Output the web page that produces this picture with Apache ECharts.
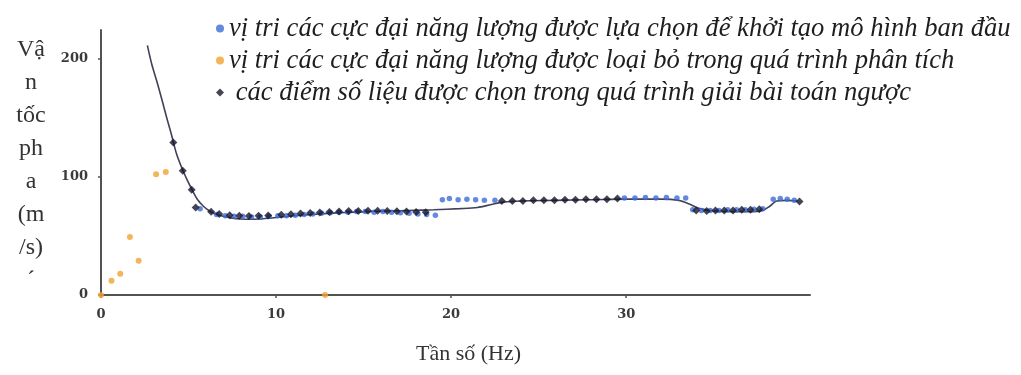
<!DOCTYPE html>
<html>
<head>
<meta charset="utf-8">
<script src="https://cdn.jsdelivr.net/npm/echarts@6/dist/echarts.min.js"></script>
<style>
html,body{margin:0;padding:0;background:#fff;}
#chart{width:1021px;height:375px;}
</style>
</head>
<body>
<div id="chart"></div>
<script>
// ---- Data ----
var legendNames = [
  'vị tri các cực đại năng lượng được lựa chọn để khởi tạo mô hình ban đầu',
  'vị tri các cực đại năng lượng được loại bỏ trong quá trình phân tích',
  'các điểm số liệu được chọn trong quá trình giải bài toán ngược'
];
var xTicks = [0, 10, 20, 30];
var yTicks = [0, 100, 200];
var xTitle = 'Tần số (Hz)';
var yTitleLines = ['Vậ', 'n', 'tốc', 'ph', 'a', '(m', '/s)', '´'];

// blue: selected energy maxima (initial model)
var blueX = [5.66, 6.6, 7.1, 7.6, 8.1, 8.6, 9.1, 9.6, 10.1, 10.6, 11.1, 11.6, 12.1, 12.6, 13.1, 13.6, 14.1, 14.6, 15.1, 15.6, 16.1, 16.6, 17.1, 17.6, 18.1, 18.6, 19.1,
             19.5, 19.9, 20.4, 20.9, 21.4, 21.9, 22.5, 29.9, 30.5, 31.1, 31.7, 32.3, 32.9, 33.4,
             33.8, 34.3, 34.8, 35.3, 35.8, 36.3, 36.8, 37.3, 37.8,
             38.4, 38.8, 39.2, 39.6];
var blueY = [73, 68, 67, 66.5, 66.5, 66, 66, 66.5, 67, 67, 67.5, 68, 68.5, 69, 69.5, 70, 70, 70.5, 70.5, 70, 70.5, 70, 69.5, 69, 68.5, 68, 67.5,
             80.5, 81.5, 80.5, 81, 80.5, 80, 80, 82, 82, 82.5, 82, 82.5, 82, 82,
             72, 71.5, 71.5, 71.5, 72, 72, 72, 72.5, 73,
             81, 81.5, 81, 80];

// orange: removed energy maxima
var orangeX = [0, 0.6, 1.1, 1.65, 2.15, 3.15, 3.7, 12.8];
var orangeY = [0, 12, 18, 49, 29, 102, 104, 0];

// black diamonds: points used in the inversion
var blackX = [4.13, 4.67, 5.18, 5.41, 6.29, 6.75, 7.35, 7.9, 8.45, 9.0, 9.55, 10.3, 10.85, 11.4, 11.95, 12.5, 13.05, 13.6, 14.15, 14.7, 15.25, 15.8, 16.35, 16.9, 17.45, 18.0, 18.55,
              22.9, 23.5, 24.1, 24.7, 25.3, 25.9, 26.5, 27.1, 27.7, 28.3, 28.9, 29.5,
              34.0, 34.6, 35.1, 35.6, 36.1, 36.6, 37.1, 37.6, 39.9];
var blackY = [129, 105, 89, 74, 70.3, 68.5, 67.5, 67, 66.8, 67, 67.2, 67.8, 68.2, 68.8, 69.3, 69.8, 70.2, 70.5, 71, 71, 71.3, 71.2, 71, 70.8, 70.5, 70.2, 70,
              79.5, 79.5, 79.5, 80, 80, 80, 80.5, 80.5, 81, 81, 81, 81.5,
              71.5, 71, 71.5, 71.5, 71.5, 72, 72, 72.5, 79];

// fitted dispersion curve
var curveX = [2.65, 2.9, 3.2, 3.5, 3.75, 4.0, 4.3, 4.6, 4.9, 5.2, 5.5, 5.85, 6.2, 6.6, 7.0, 7.5, 8.0, 8.5, 9.0, 10.0, 11.0, 12.0, 13.0, 14.0, 15.0, 16.0, 17.0, 18.0, 19.0, 20.5, 21.5, 22.3, 23.0, 24.0, 26.0, 28.0, 30.0, 32.0, 33.0, 33.6, 34.2, 35.0, 36.0, 37.0, 37.8, 38.2, 38.6, 39.2, 39.8];
var curveY = [211, 195, 180, 164, 150, 137, 120, 108, 98, 89, 81, 75, 71, 68, 66.5, 65, 64.3, 64, 64.2, 65.5, 67, 68, 69, 69.8, 70.3, 70.8, 71.2, 71.6, 72, 73, 74, 76.5, 78.5, 79.5, 80, 80.5, 81, 81, 80, 77, 73, 71, 70.5, 70.5, 71.5, 75, 79.5, 80, 79.5];

function zip(a, b) { return a.map(function (v, i) { return [v, b[i]]; }); }

var chart = echarts.init(document.getElementById('chart'), null, { renderer: 'canvas' });
var axisColor = '#4f554f';
var tickFont = { fontFamily: 'DejaVu Serif', fontWeight: 'bold', fontSize: 13, color: '#3a3a3a' };

chart.setOption({
  backgroundColor: '#ffffff',
  animation: false,
  grid: { left: 101, right: 211, top: 30, bottom: 80 },
  legend: {
    orient: 'vertical',
    left: 211,
    top: 10,
    itemGap: 5,
    itemWidth: 8,
    itemHeight: 8,
    itemTextGap: 6,
    selectedMode: false,
    data: [
      { name: legendNames[0], icon: 'circle' },
      { name: legendNames[1], icon: 'circle' },
      { name: legendNames[2], icon: 'diamond' }
    ],
    formatter: function (n) { return n === legendNames[2] ? ' ' + n : n; },
    textStyle: { fontFamily: 'Liberation Serif', fontStyle: 'italic', fontSize: 26.6, lineHeight: 27, color: '#1e1e1e' }
  },
  xAxis: {
    type: 'value', min: 0, max: 40.5,
    name: xTitle, nameLocation: 'middle', nameGap: 48,
    nameTextStyle: { fontFamily: 'Liberation Serif', fontSize: 22, color: '#333', padding: [0, 0, 0, 26] },
    axisLine: { show: true, lineStyle: { color: axisColor, width: 2 } },
    axisTick: { show: true, length: 3, customValues: xTicks, lineStyle: { color: axisColor, width: 1.5 } },
    axisLabel: Object.assign({ customValues: xTicks, margin: 13 }, tickFont),
    splitLine: { show: false }
  },
  yAxis: {
    type: 'value', min: 0, max: 224,
    axisLine: { show: true, lineStyle: { color: axisColor, width: 2 } },
    axisTick: { show: true, length: 3, customValues: yTicks, lineStyle: { color: axisColor, width: 1.5 } },
    axisLabel: Object.assign({ customValues: yTicks, margin: 13 }, tickFont),
    splitLine: { show: false }
  },
  graphic: [{
    type: 'text', x: 31, y: 33, z: 10,
    style: { text: yTitleLines.join('\n'), font: '24px "Liberation Serif"', fill: '#333', align: 'center', verticalAlign: 'top', lineHeight: 33 }
  }],
  series: [
    {
      name: 'curve', type: 'line', data: zip(curveX, curveY), smooth: 0.3, symbol: 'none',
      lineStyle: { color: '#3f4258', width: 1.6 }, z: 2
    },
    {
      name: legendNames[0], type: 'scatter', data: zip(blueX, blueY), symbol: 'circle', symbolSize: 5.5,
      itemStyle: { color: '#3d6cd8' }, z: 3
    },
    {
      name: legendNames[1], type: 'scatter', data: zip(orangeX, orangeY), symbol: 'circle', symbolSize: 6,
      itemStyle: { color: '#f0a32e' }, z: 3
    },
    {
      name: legendNames[2], type: 'scatter', data: zip(blackX, blackY), symbol: 'diamond', symbolSize: 8,
      itemStyle: { color: '#15152a' }, z: 4
    }
  ]
});
</script>
</body>
</html>
